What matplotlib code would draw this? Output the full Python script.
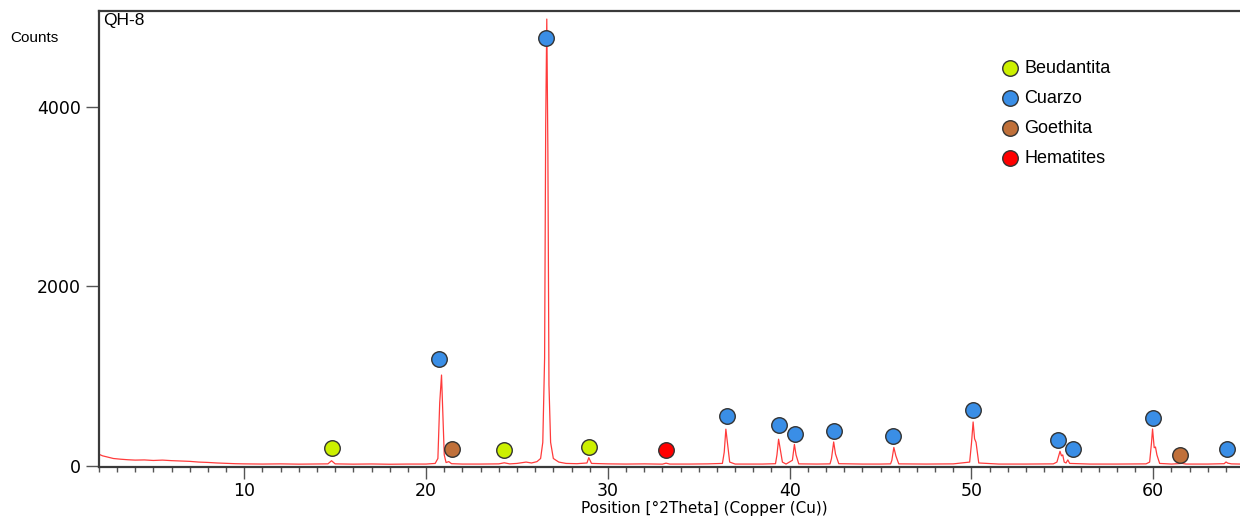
import matplotlib
matplotlib.use('Agg')
import matplotlib.pyplot as plt
from matplotlib.ticker import MultipleLocator

# Patron de difraccion QH-8 (vertices), por tramos
two_theta = (
    [2.0, 2.2, 2.5, 2.8, 3.2, 3.6, 4.0, 4.5, 5.0, 5.5, 6.0, 6.5, 7.0, 7.5, 8.0, 8.5, 9.0, 9.5, 10.0, 11.0, 12.0, 13.0, 14.0]
    + [14.6, 14.8, 15.0, 16.0, 17.0, 18.0, 19.0, 20.0, 20.5]
    + [20.65, 20.75, 20.85, 20.92, 21.0, 21.1, 21.25, 21.4, 22.0]
    + [23.0, 24.0, 24.3, 24.6, 25.0, 25.5, 25.8, 26.1, 26.3]
    + [26.42, 26.52, 26.58, 26.64, 26.7, 26.76, 26.85, 27.0, 27.3, 27.7]
    + [28.3, 28.85, 28.95, 29.1, 30.0, 31.0, 32.0, 33.0, 33.2, 33.4, 34.5, 35.5, 36.3]
    + [36.4, 36.49, 36.58, 36.7, 37.0]
    + [38.5, 39.22, 39.3, 39.39, 39.5, 39.6, 39.8]
    + [40.15, 40.26, 40.35, 40.5, 41.5]
    + [42.22, 42.3, 42.42, 42.52, 42.7, 44.0, 45.0]
    + [45.55, 45.62, 45.73, 45.84, 46.0, 47.5, 49.0, 49.9]
    + [50.0, 50.09, 50.17, 50.25, 50.4, 51.5, 53.0, 54.5, 54.7]
    + [54.8, 54.87, 54.95, 55.02, 55.1, 55.2, 55.3, 55.4, 56.5, 58.0, 59.6, 59.8]
    + [59.9, 59.96, 60.05, 60.12, 60.2, 60.35, 61.0, 61.6, 61.8, 63.0, 63.9]
    + [64.0, 64.1, 64.3, 64.77]
)
counts = (
    [128, 110, 95, 80, 72, 66, 62, 64, 58, 62, 56, 52, 48, 40, 36, 30, 26, 22, 20, 18, 20, 17, 19]
    + [20, 55, 20, 17, 19, 16, 18, 18, 25]
    + [80, 700, 1010, 600, 120, 35, 45, 22, 18]
    + [18, 20, 32, 20, 25, 40, 30, 45, 80]
    + [260, 1200, 3800, 4977, 3500, 900, 260, 80, 40, 25]
    + [22, 30, 89, 25, 20, 18, 20, 17, 28, 18, 18, 20, 25]
    + [150, 407, 250, 40, 18]
    + [18, 22, 120, 295, 160, 40, 18]
    + [60, 237, 120, 20, 18]
    + [20, 80, 264, 130, 22, 18, 18]
    + [20, 60, 203, 110, 20, 18, 20, 40]
    + [250, 487, 300, 260, 30, 18, 18, 20, 40]
    + [110, 160, 110, 120, 40, 30, 64, 25, 18, 18, 20, 40]
    + [250, 409, 200, 208, 120, 25, 18, 25, 18, 18, 22]
    + [41, 28, 20, 18]
)

# Marcadores de fases
fases = ['Beudantita', 'Cuarzo', 'Goethita', 'Hematites']
colores = ['#ccf000', '#3a8ee6', '#c0703a', '#ff0000']
pos_fases = [
    [14.84, 24.3, 28.95],
    [20.73, 26.6, 36.55, 39.39, 40.28, 42.42, 45.71, 50.09, 54.77, 55.56, 59.96, 64.03],
    [21.43, 61.49],
    [33.2],
]
alt_fases = [
    [194, 173, 205],
    [1192, 4762, 552, 448, 349, 387, 330, 625, 291, 184, 529, 184],
    [186, 115],
    [175],
]

fig = plt.figure(figsize=(12.4, 5.28), dpi=100)
ax = fig.add_axes([0.0797, 0.1155, 0.9203, 0.8635])

ax.plot(two_theta, counts, color='#ff3b3b', linewidth=0.9, zorder=2)

for nombre, col, xs, ys in zip(fases, colores, pos_fases, alt_fases):
    ax.scatter(xs, ys, s=125, color=col, edgecolor='#333333', linewidth=1.0,
               label=nombre, zorder=3)

ax.set_xlim(2, 64.77)
ax.set_ylim(-15, 5066)

ax.xaxis.set_major_locator(MultipleLocator(10))
ax.xaxis.set_minor_locator(MultipleLocator(1))
ax.set_yticks([0, 2000, 4000])

ax.tick_params(axis='x', which='major', length=8.6, width=1, color='#555555',
               labelsize=12.5, pad=2)
ax.tick_params(axis='x', which='minor', length=3.3, width=1, color='#555555')
ax.tick_params(axis='y', which='major', length=9.4, width=1, color='#555555',
               labelsize=12.5, pad=3.5)

for lado in ['left', 'top', 'bottom']:
    ax.spines[lado].set_color('#3a3a3a')
    ax.spines[lado].set_linewidth(1.6)
ax.spines['right'].set_visible(False)

ax.set_xlabel('Position [°2Theta] (Copper (Cu))', fontsize=11, labelpad=7)
ax.xaxis.set_label_coords(0.5303, -0.075)
fig.text(0.008, 1 - 38 / 528, 'Counts', fontsize=11, va='center',
         family='Liberation Sans')
ax.text(0.004, 0.995, 'QH-8', transform=ax.transAxes, fontsize=12.5,
        va='top', ha='left', family='Liberation Sans')

leg = ax.legend(loc='upper left', bbox_to_anchor=(999 / 1240, 1 - 60 / 528),
                bbox_transform=fig.transFigure, frameon=False,
                prop={'family': 'Liberation Sans', 'size': 13},
                handletextpad=0.2, labelspacing=0.72, borderaxespad=0,
                borderpad=0, handlelength=1.2)

fig.savefig('out.png', dpi=100)
